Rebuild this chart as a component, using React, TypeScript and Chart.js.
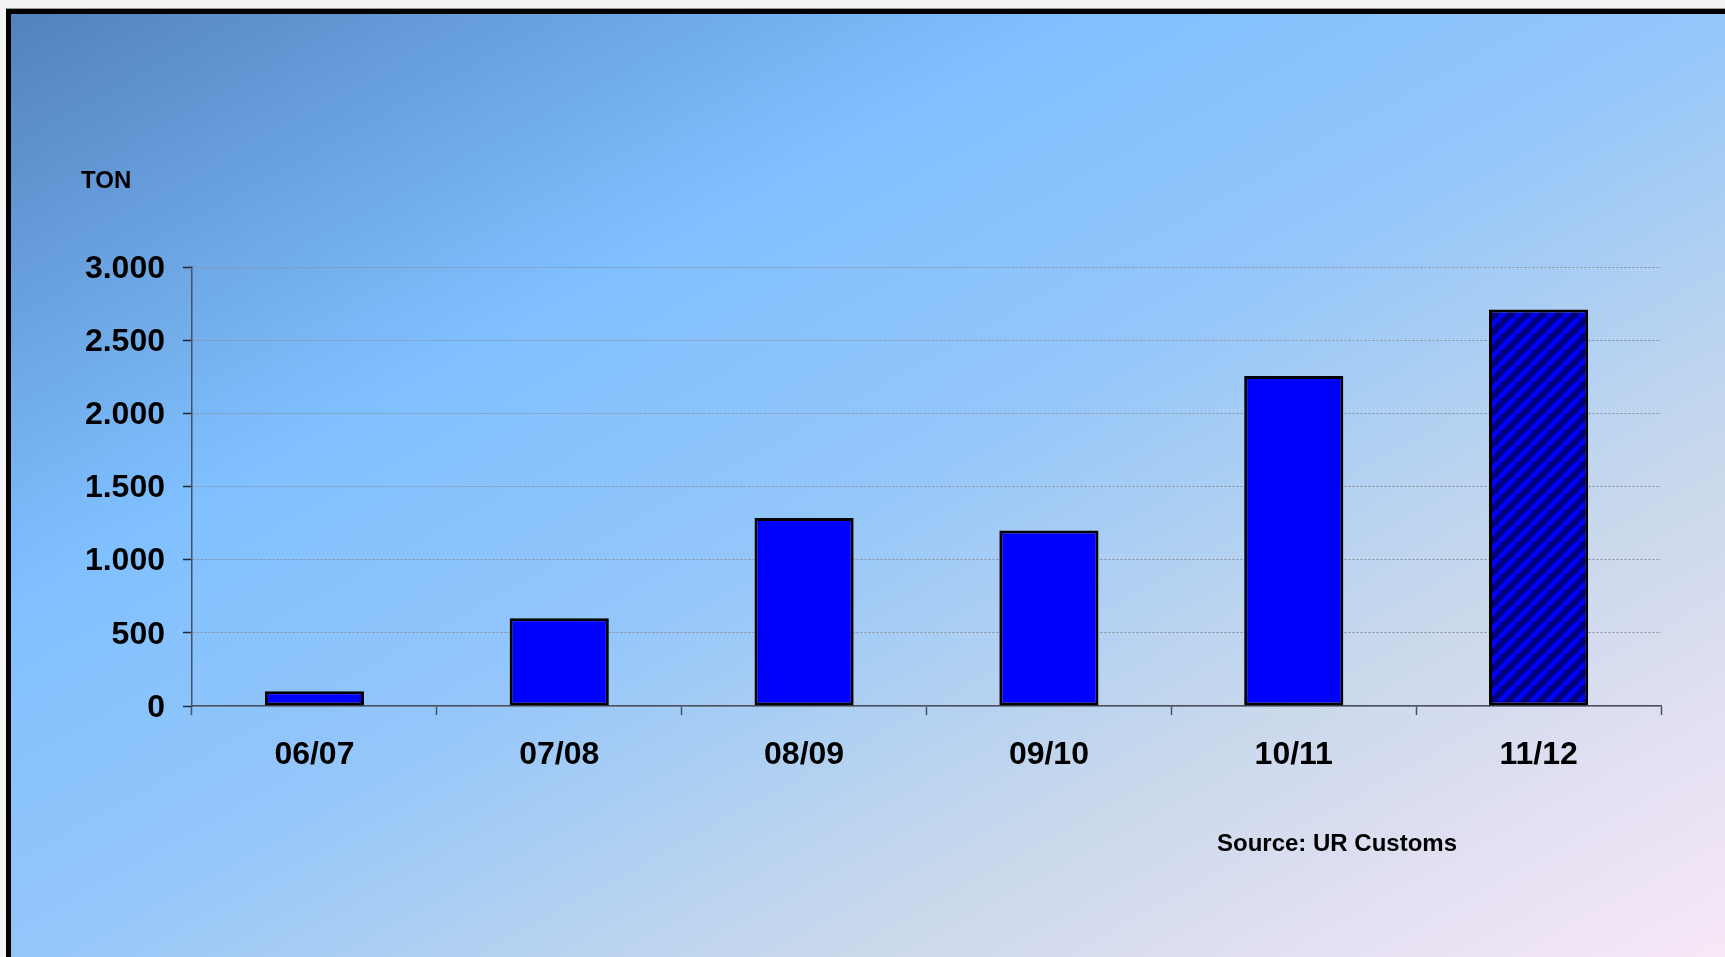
import React, { useEffect, useRef } from "react";
import { Chart, registerables } from "chart.js";

Chart.register(...registerables);

const categories = ["06/07", "07/08", "08/09", "09/10", "10/11", "11/12"];
const tonnes = [100, 600, 1285, 1200, 2255, 2710];
const yTicks = [0, 500, 1000, 1500, 2000, 2500, 3000];
const unitLabel = "TON";
const sourceLabel = "Source: UR Customs";

const FONT = '"Liberation Sans", Arial, sans-serif';

function fmt(v: number): string {
  return String(v).replace(/\B(?=(\d{3})+(?!\d))/g, ".");
}

function makePattern(): CanvasPattern | string {
  const c = document.createElement("canvas");
  const s = 16;
  c.width = s;
  c.height = s;
  const g = c.getContext("2d");
  if (!g) return "#000080";
  g.fillStyle = "#000080";
  g.fillRect(0, 0, s, s);
  g.strokeStyle = "#0000ff";
  g.lineWidth = 5;
  for (let k = -1; k <= 1; k++) {
    g.beginPath();
    g.moveTo(k * s, s);
    g.lineTo(k * s + s, 0);
    g.stroke();
  }
  const p = g.createPattern(c, "repeat");
  return p || "#000080";
}

const textPlugin = {
  id: "extraText",
  afterDraw(chart: any) {
    const ctx = chart.ctx as CanvasRenderingContext2D;
    ctx.save();
    ctx.fillStyle = "#000";
    ctx.textBaseline = "middle";
    ctx.textAlign = "left";
    ctx.font = `bold 24px ${FONT}`;
    ctx.fillText(unitLabel, 70, 167);
    ctx.fillText(sourceLabel, 1206, 830);
    ctx.restore();
  },
};

export default function App() {
  const ref = useRef<HTMLCanvasElement | null>(null);

  useEffect(() => {
    document.body.style.margin = "0";
    document.body.style.background = "#f3f3f3";
    document.body.style.overflow = "hidden";
    const canvas = ref.current;
    if (!canvas) return;
    const pattern = makePattern();
    const fills = tonnes.map((_, i) => (i === tonnes.length - 1 ? pattern : "#0000ff"));
    const chart = new Chart(canvas, {
      type: "bar",
      data: {
        labels: categories,
        datasets: [
          {
            data: tonnes,
            backgroundColor: fills as any,
            borderColor: "#000000",
            borderWidth: 3,
            borderSkipped: false,
            barPercentage: 0.405,
            categoryPercentage: 1,
          },
        ],
      },
      options: {
        responsive: false,
        animation: false,
        layout: { padding: { top: 253, right: 64, left: 0, bottom: 0 } },
        plugins: {
          legend: { display: false },
          tooltip: { enabled: false },
          title: { display: false },
        },
        scales: {
          x: {
            afterFit: (s: any) => {
              s.height = 251;
            },
            grid: {
              display: true,
              offset: true,
              drawOnChartArea: false,
              drawTicks: true,
              tickLength: 9,
              tickColor: "#4a5060",
              tickWidth: 1.5,
            },
            border: { display: true, color: "#4a5060", width: 1.5 },
            ticks: {
              color: "#000",
              font: { family: FONT, size: 32, weight: "bold" },
              padding: 21,
              maxRotation: 0,
            },
          },
          y: {
            min: 0,
            max: 3000,
            afterFit: (s: any) => {
              s.width = 181;
            },
            afterBuildTicks: (s: any) => {
              s.ticks = yTicks.map((v) => ({ value: v }));
            },
            grid: {
              color: "#8a8f98",
              lineWidth: 1,
              drawTicks: true,
              tickLength: 9,
              tickColor: "#222a38",
              tickWidth: 1.5,
            },
            border: { display: true, color: "#4a5060", width: 1.5, dash: [2, 2] },
            ticks: {
              color: "#000",
              font: { family: FONT, size: 32, weight: "bold" },
              padding: 18,
              labelOffset: 2,
              callback: (v: any) => fmt(Number(v)),
            },
          },
        },
      },
      plugins: [textPlugin],
    });
    return () => chart.destroy();
  }, []);

  return (
    <div
      style={{
        position: "absolute",
        left: 6,
        top: 9,
        width: 1714,
        height: 943,
        borderLeft: "5px solid #000",
        borderTop: "5px solid #000",
        boxShadow: "0 -1px 0 #9a9a9a",
        background:
          "linear-gradient(to bottom right, #5282be 0%, #80c0ff 31%, #94c6fa 50%, #afd0f2 62%, #cad8ec 74%, #e2e0f2 87%, #f8e8f8 100%)",
      }}
    >
      <canvas ref={ref} width={1714} height={943} style={{ display: "block" }} />
    </div>
  );
}
